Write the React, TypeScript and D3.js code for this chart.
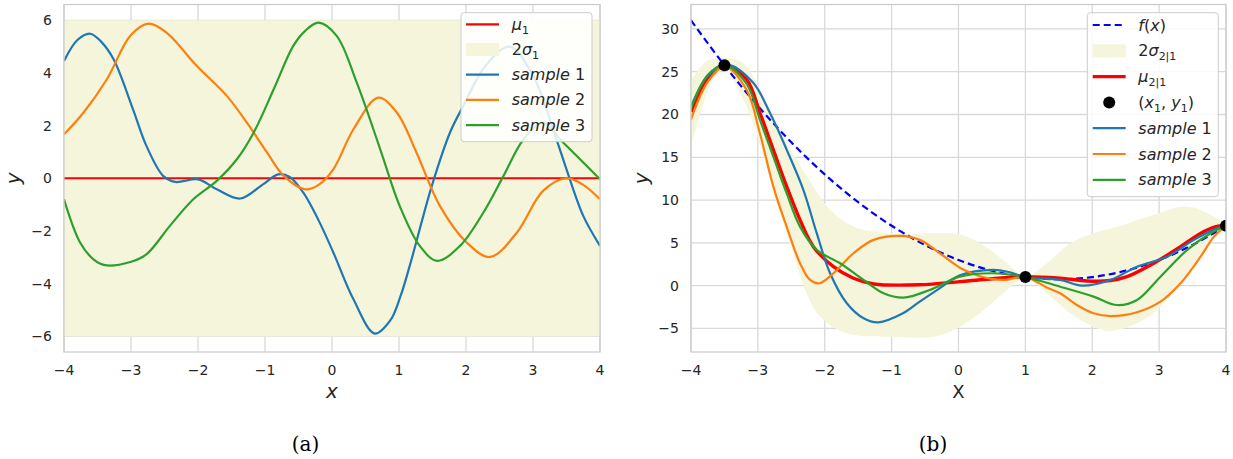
import React from 'react';
import * as d3 from 'd3';

type Pt = [number, number];

// ---- data ----
const xTicks = [-4, -3, -2, -1, 0, 1, 2, 3, 4];
const yTicksA = [-6, -4, -2, 0, 2, 4, 6];
const yTicksB = [-5, 0, 5, 10, 15, 20, 25, 30];

// panel (a): prior
const meanA: Pt[] = [[-4, 0], [4, 0]];
const bandUpperA: Pt[] = [[-4, 6], [4, 6]];
const bandLowerA: Pt[] = [[-4, -6], [4, -6]];

const sample1A: Pt[] = [
  [-4, 4.45], [-3.8, 5.25], [-3.61, 5.49], [-3.45, 5.2], [-3.26, 4.52], [-2.97, 2.62],
  [-2.77, 1.23], [-2.52, 0.09], [-2.34, -0.14], [-2.0, -0.04], [-1.72, -0.42],
  [-1.37, -0.77], [-1.03, -0.23], [-0.8, 0.15], [-0.63, 0.05], [-0.43, -0.54],
  [-0.2, -1.6], [0.02, -2.82], [0.32, -4.6], [0.64, -5.9], [0.87, -5.4], [1.02, -4.5],
  [1.16, -3.33], [1.49, -0.29], [1.76, 1.73], [1.96, 2.75], [2.3, 4.3], [2.65, 5.0],
  [3.0, 3.9], [3.35, 1.48], [3.5, 0.34], [3.75, -1.43], [4, -2.57],
];
const sample2A: Pt[] = [
  [-4, 1.67], [-3.71, 2.49], [-3.36, 3.76], [-3.01, 5.41], [-2.74, 5.87], [-2.47, 5.53],
  [-2.02, 4.27], [-1.57, 3.13], [-1.27, 2.11], [-0.97, 0.98], [-0.72, 0.09], [-0.4, -0.42],
  [-0.2, -0.25], [0.02, 0.34], [0.32, 1.86], [0.69, 3.06], [0.97, 2.49], [1.26, 0.98],
  [1.61, -1.05], [2.01, -2.44], [2.36, -2.99], [2.76, -2.06], [3.15, -0.48], [3.5, 0.0],
  [3.75, -0.25], [4, -0.8],
];
const sample3A: Pt[] = [
  [-4, -0.8], [-3.76, -2.44], [-3.56, -3.08], [-3.39, -3.3], [-3.01, -3.18], [-2.77, -2.89],
  [-2.42, -1.81], [-2.07, -0.8], [-1.72, -0.1], [-1.42, 0.72], [-1.17, 1.73], [-0.87, 3.38],
  [-0.58, 5.02], [-0.4, 5.6], [-0.2, 5.91], [0.07, 5.41], [0.37, 3.63], [0.72, 1.1],
  [1.01, -1.05], [1.31, -2.57], [1.57, -3.14], [1.91, -2.57], [2.26, -1.3], [2.56, 0.09],
  [2.86, 1.48], [3.15, 2.1], [3.45, 1.36], [4, -0.04],
];

// panel (b): posterior
const fx: Pt[] = [
  [-4, 31], [-3.5, 25.75], [-3, 21], [-2.5, 16.75], [-2, 13], [-1.5, 9.75], [-1, 7],
  [-0.5, 4.75], [0, 3], [0.5, 1.75], [1, 1], [1.5, 0.75], [2, 1], [2.5, 1.75], [3, 3],
  [3.5, 4.75], [4, 7],
];
const observed: Pt[] = [[-3.5, 25.75], [1, 1], [4, 7]];

const bandUpperB: Pt[] = [
  [-4, 24.0], [-3.77, 26.2], [-3.6, 26.5], [-3.35, 26.5], [-3.17, 25.6], [-2.92, 22.1],
  [-2.67, 18.2], [-2.42, 14.7], [-2.17, 11.6], [-1.92, 8.86], [-1.57, 6.9], [-1.07, 6.13],
  [-0.33, 6.13], [0.02, 6.0], [0.32, 4.96], [0.67, 3.0], [1, 1.1], [1.32, 2.62],
  [1.67, 4.96], [2.02, 6.13], [2.42, 7.0], [2.92, 8.3], [3.42, 9.25], [3.82, 8.07], [4, 7.1],
];
const bandLowerB: Pt[] = [
  [-4, 16.3], [-3.87, 19.8], [-3.67, 24.1], [-3.5, 25.2], [-3.27, 22.5], [-3.07, 19.0],
  [-2.87, 13.9], [-2.67, 8.47], [-2.47, 3.79], [-2.27, -0.89], [-2.07, -3.63], [-1.67, -5.57],
  [-1.07, -5.97], [-0.33, -5.9], [0.02, -4.8], [0.32, -3.23], [0.67, -0.89], [1, 0.9],
  [1.32, -0.89], [1.67, -3.23], [2.02, -4.8], [2.27, -5.3], [2.67, -4.4], [3.02, -2.46],
  [3.42, 1.45], [3.77, 4.96], [4, 6.9],
];
const meanB: Pt[] = [
  [-4, 20.3], [-3.75, 24.2], [-3.5, 25.8], [-3.17, 24.1], [-2.97, 20.2], [-2.77, 15.9],
  [-2.57, 11.6], [-2.37, 7.69], [-2.17, 4.56], [-1.87, 2.22], [-1.57, 0.87], [-1.27, 0.2],
  [-0.58, 0.1], [0.02, 0.47], [0.42, 0.75], [1, 1.05], [1.52, 0.87], [1.92, 0.55],
  [2.27, 0.6], [2.52, 1.05], [2.92, 2.62], [3.32, 4.56], [3.67, 6.32], [3.9, 6.98], [4, 7],
];
const sample1B: Pt[] = [
  [-4, 20.9], [-3.75, 24.5], [-3.45, 25.8], [-3.07, 23.7], [-2.82, 20.2], [-2.57, 15.9],
  [-2.32, 11.2], [-2.12, 6.13], [-1.92, 1.45], [-1.67, -2.06], [-1.42, -3.81], [-1.2, -4.28],
  [-0.83, -3.23], [-0.58, -1.87], [-0.3, -0.4], [0.02, 1.2], [0.52, 1.84], [0.75, 1.6],
  [1, 1.0], [1.52, 0.67], [1.85, 0.0], [2.27, 0.67], [2.67, 2.22], [3.12, 3.39],
  [3.52, 5.35], [3.87, 6.72], [4, 7],
];
const sample2B: Pt[] = [
  [-4, 19.4], [-3.75, 23.8], [-3.5, 25.6], [-3.17, 22.9], [-2.97, 17.8], [-2.77, 11.6],
  [-2.57, 6.9], [-2.37, 2.62], [-2.22, 0.67], [-2.08, 0.28], [-1.87, 1.45], [-1.57, 3.79],
  [-1.27, 5.35], [-0.87, 5.82], [-0.58, 5.35], [-0.28, 3.79], [0.02, 2.1], [0.32, 1.1],
  [0.67, 0.67], [1, 1.0], [1.32, -0.2], [1.52, -0.89], [1.77, -2.26], [2.02, -3.23],
  [2.27, -3.55], [2.67, -3.1], [3.02, -1.87], [3.32, 0.28], [3.62, 3.39], [3.82, 5.73], [4, 7],
];
const sample3B: Pt[] = [
  [-4, 20.7], [-3.75, 24.6], [-3.5, 25.8], [-3.17, 23.6], [-2.97, 19.4], [-2.77, 15.1],
  [-2.57, 10.8], [-2.37, 6.9], [-2.12, 4.18], [-1.77, 2.62], [-1.42, 0.67], [-1.12, -0.89],
  [-0.82, -1.4], [-0.43, -0.5], [0.02, 1.05], [0.52, 1.45], [1, 1.0], [1.52, -0.12],
  [2.02, -1.28], [2.37, -2.26], [2.67, -1.67], [3.02, 1.05], [3.42, 4.18], [3.77, 6.13], [4, 7],
];

// ---- styling ----
const BLUE = '#1f77b4';
const ORANGE = '#ff7f0e';
const GREEN = '#2ca02c';
const RED = '#ff0000';
const BAND = '#f5f5dc';
const GRID = '#d9d9d9';
const TEXT = '#262626';
const FONT = '"DejaVu Sans", sans-serif';

const TOP = 4.5;
const BOTTOM = 352;

const sub = (t: string) => (
  <tspan fontSize={11} dy={4} fontStyle="normal">{t}</tspan>
);

type LegendItem = { kind: 'line' | 'dash' | 'patch' | 'dot'; color: string; width?: number; label: React.ReactNode };

function Legend({ x, y, w, h, hx, tx, rows, step, items }: {
  x: number; y: number; w: number; h: number; hx: number; tx: number; rows: number; step: number; items: LegendItem[];
}) {
  return (
    <g>
      <rect x={x} y={y} width={w} height={h} rx={3} fill="#fff" fillOpacity={0.85} stroke="#cccccc" strokeWidth={1} />
      {items.map((it, i) => {
        const cy = rows + i * step;
        return (
          <g key={i}>
            {it.kind === 'line' && <line x1={hx} x2={hx + 33} y1={cy} y2={cy} stroke={it.color} strokeWidth={it.width ?? 2.2} />}
            {it.kind === 'dash' && <line x1={hx} x2={hx + 33} y1={cy} y2={cy} stroke={it.color} strokeWidth={2.2} strokeDasharray="7,4" />}
            {it.kind === 'patch' && <rect x={hx} y={cy - 6.5} width={33} height={13} fill={it.color} />}
            {it.kind === 'dot' && <circle cx={hx + 16.5} cy={cy} r={6} fill={it.color} />}
            <text x={tx} y={cy + 5.5} fontSize={16} fill={TEXT} fontFamily={FONT}>{it.label}</text>
          </g>
        );
      })}
    </g>
  );
}

function Panel({ id, x0, x1, yDomain, yTicks, bandU, bandL, curves, dashed, points, yLabelX, xLabel }: {
  id: string; x0: number; x1: number; yDomain: [number, number]; yTicks: number[];
  bandU: Pt[]; bandL: Pt[]; curves: { data: Pt[]; color: string; width: number }[];
  dashed?: Pt[]; points?: Pt[]; yLabelX: number; xLabel: React.ReactNode;
}) {
  const x = d3.scaleLinear().domain([-4, 4]).range([x0, x1]);
  const y = d3.scaleLinear().domain(yDomain).range([BOTTOM, TOP]);
  const line = d3.line<Pt>().x(d => x(d[0])).y(d => y(d[1])).curve(d3.curveCatmullRom.alpha(0.5));
  const upper = line(bandU) ?? '';
  const lower = (line([...bandL].reverse()) ?? '').replace(/^M/, 'L');
  const fmt = (v: number) => (v < 0 ? '\u2212' + Math.abs(v) : String(v));

  return (
    <g>
      <defs>
        <clipPath id={id}>
          <rect x={x0} y={TOP} width={x1 - x0} height={BOTTOM - TOP} />
        </clipPath>
      </defs>
      {/* grid */}
      {xTicks.map(t => (
        <line key={'gx' + t} x1={x(t)} x2={x(t)} y1={TOP} y2={BOTTOM} stroke={GRID} strokeWidth={1.3} />
      ))}
      {yTicks.map(t => (
        <line key={'gy' + t} x1={x0} x2={x1} y1={y(t)} y2={y(t)} stroke={GRID} strokeWidth={1.3} />
      ))}
      <g clipPath={`url(#${id})`}>
        <path d={upper + lower + 'Z'} fill={BAND} />
        {dashed && (
          <path d={line(dashed) ?? ''} fill="none" stroke="#0000ff" strokeWidth={2.2} strokeDasharray="7,4" />
        )}
        {curves.map((c, i) => (
          <path key={i} d={line(c.data) ?? ''} fill="none" stroke={c.color} strokeWidth={c.width} />
        ))}
        {points && points.map((p, i) => (
          <circle key={i} cx={x(p[0])} cy={y(p[1])} r={6} fill="#000" />
        ))}
      </g>
      <rect x={x0} y={TOP} width={x1 - x0} height={BOTTOM - TOP} fill="none" stroke="#cccccc" strokeWidth={1.3} />
      {/* tick labels */}
      {xTicks.map(t => (
        <text key={'tx' + t} x={x(t)} y={375} textAnchor="middle" fontSize={14} fill={TEXT} fontFamily={FONT}>{fmt(t)}</text>
      ))}
      {yTicks.map(t => (
        <text key={'ty' + t} x={x0 - 12} y={y(t) + 5} textAnchor="end" fontSize={14} fill={TEXT} fontFamily={FONT}>{fmt(t)}</text>
      ))}
      <text transform={`translate(${yLabelX},${(TOP + BOTTOM) / 2}) rotate(-90)`} textAnchor="middle" fontSize={20}
        fontStyle="italic" fill={TEXT} fontFamily={FONT}>y</text>
      <text x={x(0)} y={398} textAnchor="middle" fontSize={20} fill={TEXT} fontFamily={FONT}>{xLabel}</text>
    </g>
  );
}

export default function App() {
  const legendA: LegendItem[] = [
    { kind: 'line', color: RED, label: <><tspan fontStyle="italic">μ</tspan>{sub('1')}</> },
    { kind: 'patch', color: BAND, label: <>2<tspan fontStyle="italic">σ</tspan>{sub('1')}</> },
    { kind: 'line', color: BLUE, label: <><tspan fontStyle="italic">sample</tspan>{' 1'}</> },
    { kind: 'line', color: ORANGE, label: <><tspan fontStyle="italic">sample</tspan>{' 2'}</> },
    { kind: 'line', color: GREEN, label: <><tspan fontStyle="italic">sample</tspan>{' 3'}</> },
  ];
  const legendB: LegendItem[] = [
    { kind: 'dash', color: '#0000ff', label: <><tspan fontStyle="italic">f</tspan>(<tspan fontStyle="italic">x</tspan>)</> },
    { kind: 'patch', color: BAND, label: <>2<tspan fontStyle="italic">σ</tspan>{sub('2|1')}</> },
    { kind: 'line', color: RED, width: 3.4, label: <><tspan fontStyle="italic">μ</tspan>{sub('2|1')}</> },
    {
      kind: 'dot', color: '#000', label: <>(<tspan fontStyle="italic">x</tspan>{sub('1')}<tspan dy={-4}>, </tspan>
        <tspan fontStyle="italic">y</tspan>{sub('1')}<tspan dy={-4}>)</tspan></>,
    },
    { kind: 'line', color: BLUE, label: <><tspan fontStyle="italic">sample</tspan>{' 1'}</> },
    { kind: 'line', color: ORANGE, label: <><tspan fontStyle="italic">sample</tspan>{' 2'}</> },
    { kind: 'line', color: GREEN, label: <><tspan fontStyle="italic">sample</tspan>{' 3'}</> },
  ];

  return (
    <svg width={1233} height={459} style={{ position: 'absolute', left: 0, top: 0, background: '#fff' }}>
      <Panel
        id="clipA" x0={64} x1={600} yDomain={[-6.6, 6.6]} yTicks={yTicksA}
        bandU={bandUpperA} bandL={bandLowerA}
        curves={[
          { data: meanA, color: RED, width: 2.2 },
          { data: sample1A, color: BLUE, width: 2.2 },
          { data: sample2A, color: ORANGE, width: 2.2 },
          { data: sample3A, color: GREEN, width: 2.2 },
        ]}
        yLabelX={20}
        xLabel={<tspan fontStyle="italic">x</tspan>}
      />
      <Panel
        id="clipB" x0={691} x1={1226} yDomain={[-7.75, 32.85]} yTicks={yTicksB}
        bandU={bandUpperB} bandL={bandLowerB}
        dashed={fx}
        curves={[
          { data: meanB, color: RED, width: 3.4 },
          { data: sample1B, color: BLUE, width: 2.2 },
          { data: sample2B, color: ORANGE, width: 2.2 },
          { data: sample3B, color: GREEN, width: 2.2 },
        ]}
        points={observed}
        yLabelX={648}
        xLabel={<tspan fontSize={18}>X</tspan>}
      />
      <Legend x={461} y={12.7} w={131} h={129} hx={466} tx={511.7} rows={24.3} step={25.2} items={legendA} />
      <Legend x={1087.3} y={12.7} w={131} h={184} hx={1092.7} tx={1138.3} rows={25} step={25.8} items={legendB} />
      <text x={305.5} y={451} textAnchor="middle" fontSize={20} fill="#000" fontFamily='"DejaVu Serif", serif'>(a)</text>
      <text x={933} y={451} textAnchor="middle" fontSize={20} fill="#000" fontFamily='"DejaVu Serif", serif'>(b)</text>
    </svg>
  );
}
